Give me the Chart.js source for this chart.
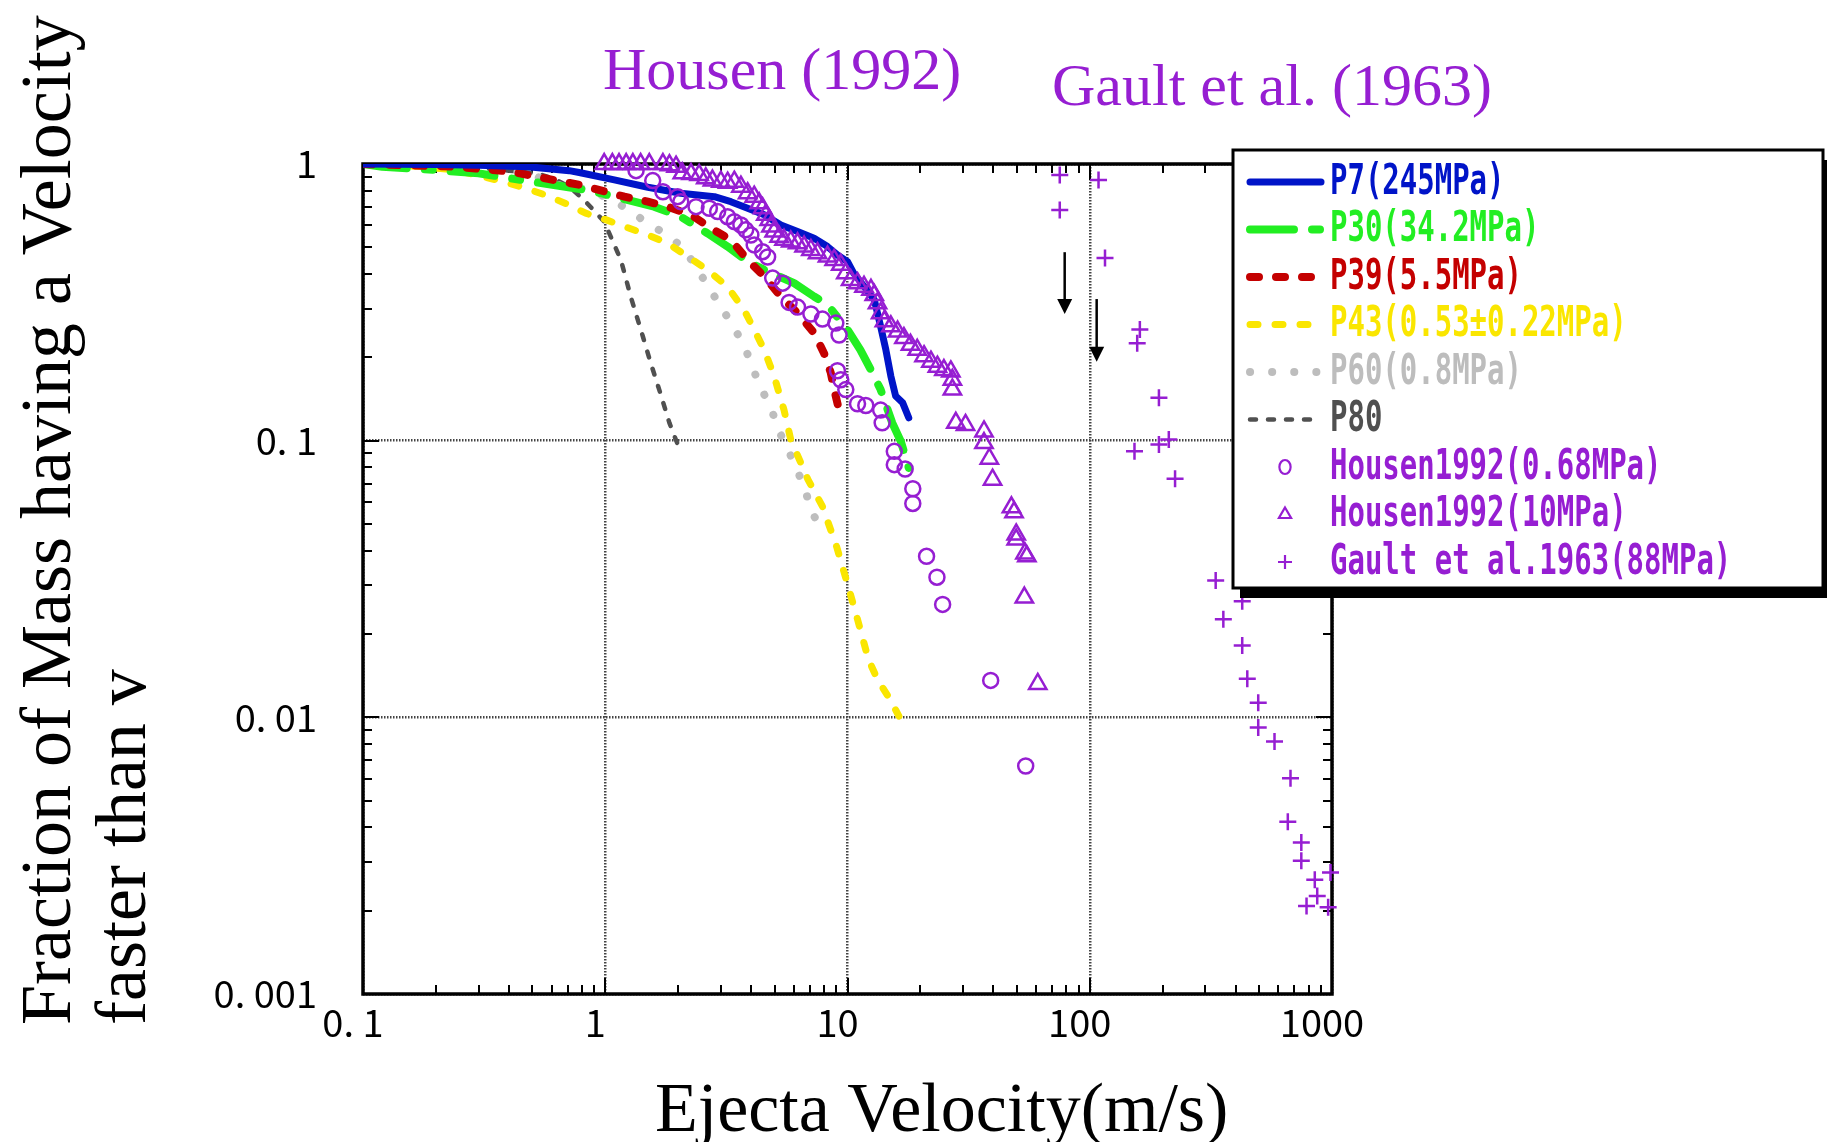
<!DOCTYPE html>
<html>
<head>
<meta charset="utf-8">
<script src="https://cdn.jsdelivr.net/npm/chart.js@4.4.1/dist/chart.umd.min.js"></script>
<style>
  html, body { margin: 0; padding: 0; background: #fff; overflow: hidden; }
  canvas { display: block; }
</style>
</head>
<body>
<canvas id="chart" width="1827" height="1142"></canvas>
<script>
'use strict';

// axes
const xTickVals = [0.1, 1, 10, 100, 1000];
const xTickLabels = ['0. 1', '1', '10', '100', '1000'];
const yTickVals = [0.001, 0.01, 0.1, 1];
const yTickLabels = ['0. 001', '0. 01', '0. 1', '1'];
const xTitle = 'Ejecta Velocity(m/s)';
const yTitle = ['Fraction of Mass having a Velocity', 'faster than v'];
const notes = ['Housen (1992)', 'Gault et al. (1963)'];

// series, [velocity (m/s), fraction faster than v]
const p7 = [[0.1,1],[0.2,0.995],[0.3,0.99],[0.48,0.978],[0.71,0.946],[0.79,0.93],[1.09,0.876],[1.5,0.824],
  [2.05,0.784],[2.82,0.762],[3.3,0.731],[3.87,0.692],[4.53,0.655],[5.31,0.602],[6.22,0.57],[7.28,0.539],
  [8.27,0.503],[9.09,0.469],[10,0.444],[10.6,0.403],[11.7,0.361],[12.9,0.323],[13.7,0.259],[14.4,0.213],
  [15.1,0.171],[15.8,0.145],[16.9,0.137],[17.9,0.121]];
const p30 = [[0.1,1],[0.12,0.978],[0.2,0.951],[0.3,0.925],[0.5,0.863],[0.8,0.81],[0.96,0.784],[1.59,0.701],
  [2.05,0.645],[2.64,0.562],[3.2,0.503],[3.87,0.444],[4.68,0.409],[6.02,0.371],[7.28,0.332],[8.27,0.31],
  [10,0.252],[11.3,0.213],[12.5,0.18],[13.7,0.153],[15.3,0.116],[16.6,0.0994],[17.9,0.0797]];
const p39 = [[0.1,1],[0.24,0.978],[0.41,0.938],[0.61,0.876],[0.79,0.84],[1.2,0.762],[1.5,0.731],[1.81,0.701],
  [2.26,0.655],[2.73,0.586],[3.3,0.532],[3.87,0.45],[4.53,0.392],[5.31,0.332],[6.22,0.289],[7.28,0.245],
  [8.0,0.207],[8.53,0.176],[8.81,0.153],[9.23,0.129]];
const p43 = [[0.1,1],[0.176,0.978],[0.24,0.951],[0.355,0.876],[0.448,0.828],[0.565,0.773],[0.71,0.711],
  [0.83,0.664],[1.01,0.628],[1.2,0.594],[1.5,0.554],[1.81,0.517],[2.19,0.463],[2.64,0.414],[3.2,0.36],
  [3.74,0.297],[4.12,0.252],[4.53,0.213],[4.98,0.171],[5.47,0.129],[5.83,0.101],[6.87,0.0723],[7.87,0.058],
  [9.01,0.0415],[9.97,0.0306],[11.0,0.0226],[12.2,0.0162],[13.3,0.0137],[15.0,0.0116],[16.3,0.0101]];
const p60 = [[0.1,1],[0.176,0.992],[0.292,0.951],[0.43,0.938],[0.522,0.9],[0.634,0.84],[0.794,0.817],
  [0.96,0.773],[1.16,0.711],[1.43,0.628],[1.75,0.562],[2.12,0.496],[2.33,0.432],[2.64,0.366],[2.91,0.318],
  [3.25,0.273],[3.63,0.232],[3.93,0.199],[4.19,0.171],[4.53,0.147],[4.91,0.126],[5.22,0.108],[5.65,0.094],
  [6.64,0.068],[6.98,0.0582],[7.53,0.05]];
const p80 = [[0.1,1],[0.3,0.97],[0.52,0.925],[0.61,0.888],[0.71,0.828],[0.83,0.731],[0.99,0.619],[1.16,0.45],
  [1.28,0.327],[1.43,0.238],[1.54,0.191],[1.67,0.153],[1.84,0.116],[1.99,0.097]];
const housenLo = [[1.34,0.946],[1.57,0.871],[1.73,0.794],[1.99,0.762],[2.05,0.731],[2.37,0.701],[2.69,0.692],
  [2.91,0.673],[3.2,0.645],[3.41,0.619],[3.63,0.602],[3.8,0.578],[3.99,0.554],[4.12,0.51],[4.46,0.482],
  [4.68,0.461],[4.91,0.387],[5.4,0.371],[5.74,0.316],[6.22,0.304],[7.06,0.287],[7.88,0.275],[8.95,0.266],
  [9.23,0.241],[9.09,0.179],[9.38,0.166],[9.84,0.153],[11.0,0.136],[11.9,0.134],[13.7,0.129],[13.9,0.116],
  [15.6,0.0915],[15.6,0.0819],[17.3,0.079],[18.6,0.067],[18.6,0.0593],[21.2,0.0382],[23.4,0.0321],
  [24.7,0.0256],[39.0,0.0136],[54.4,0.00667]];
const housenHi = [[0.99,1],[1.07,1],[1.14,1],[1.22,1],[1.3,1],[1.4,1],[1.52,1],[1.73,1],[1.84,0.99],
  [1.96,0.978],[2.08,0.925],[2.26,0.92],[2.44,0.913],[2.6,0.888],[2.77,0.871],[3.0,0.863],[3.2,0.856],
  [3.41,0.863],[3.63,0.828],[3.87,0.784],[4.12,0.762],[4.32,0.721],[4.46,0.692],[4.6,0.655],[4.75,0.628],
  [4.83,0.594],[4.98,0.57],[5.22,0.546],[5.47,0.532],[5.83,0.525],[6.22,0.517],[6.62,0.503],[7.06,0.489],
  [7.52,0.476],[8.27,0.463],[8.81,0.45],[9.38,0.432],[9.84,0.403],[10.3,0.381],[11.0,0.371],[11.7,0.36],
  [12.5,0.351],[12.9,0.336],[13.3,0.314],[13.7,0.289],[14.2,0.27],[15.1,0.259],[16.1,0.248],[17.1,0.235],
  [18.2,0.222],[19.4,0.213],[20.7,0.202],[22.1,0.193],[23.5,0.185],[25.0,0.18],[26.7,0.178],[27.1,0.166],
  [27.1,0.153],[28.0,0.116],[30.7,0.114],[36.6,0.108],[36.6,0.098],[38.5,0.0861],[39.7,0.0723],[47.5,0.0574],
  [48.7,0.0551],[49.7,0.0458],[49.7,0.0439],[54.0,0.0391],[55.0,0.0382],[53.7,0.0271],[61.0,0.0132]];
const gault = [[75.2,0.913],[108.7,0.875],[75.2,0.682],[115.6,0.457],[161,0.252],[157,0.225],[193,0.143],
  [212,0.101],[193,0.0968],[153,0.0915],[225,0.0728],[331,0.0312],[426,0.0263],[356,0.0226],[426,0.0182],
  [447,0.0138],[496,0.0113],[496,0.00918],[579,0.00817],[674,0.00602],[657,0.00419],[747,0.00353],
  [747,0.00303],[986,0.00275],[849,0.00259],[869,0.00226],[785,0.00208],[964,0.00206]];

// the two arrows: velocity, fraction at tail, fraction at tip
const arrowV = [78.8, 106.8];
const arrowFrom = [0.48, 0.325];
const arrowTo = [0.287, 0.193];

const PURPLE = '#961ed2';
const pts = a => a.map(([x, y]) => ({ x, y }));

function lineSet(label, data, color, width, dash, order) {
  return {
    label, data: pts(data), showLine: true,
    borderColor: color, backgroundColor: color, borderWidth: width, borderDash: dash,
    borderCapStyle: 'round', borderJoinStyle: 'round',
    pointRadius: 0, pointHoverRadius: 0, order
  };
}

function markSet(label, data, style, radius, order) {
  return {
    label, data: pts(data), showLine: false,
    pointStyle: style, pointRadius: radius, pointHoverRadius: radius,
    borderColor: PURPLE, pointBorderColor: PURPLE, pointBackgroundColor: 'rgba(0,0,0,0)',
    pointBorderWidth: 2.5, clip: false, order
  };
}

function drawMark(ctx, style, x, y, r) {
  ctx.beginPath();
  if (style === 'circle') {
    ctx.ellipse(x, y, r * 0.8, r, 0, 0, Math.PI * 2);
  } else if (style === 'triangle') {
    ctx.moveTo(x, y - r);
    ctx.lineTo(x + r * 0.87, y + r * 0.5);
    ctx.lineTo(x - r * 0.87, y + r * 0.5);
    ctx.closePath();
  } else {
    ctx.moveTo(x - r, y); ctx.lineTo(x + r, y);
    ctx.moveTo(x, y - r); ctx.lineTo(x, y + r);
  }
  ctx.stroke();
}

// frame and inward minor/major ticks on all four sides
const framePlugin = {
  id: 'frame',
  beforeDatasetsDraw(chart) {
    const { ctx, chartArea: a, scales: { x, y } } = chart;
    ctx.save();
    ctx.strokeStyle = '#000';
    ctx.lineWidth = 2;
    ctx.beginPath();
    for (let d = 0; d < xTickVals.length - 1; d++) {
      for (let m = 1; m <= 9; m++) {
        if (d === 0 && m === 1) continue;
        const px = Math.round(x.getPixelForValue(xTickVals[d] * m));
        const len = m === 1 ? 16 : 9;
        ctx.moveTo(px, a.bottom); ctx.lineTo(px, a.bottom - len);
        ctx.moveTo(px, a.top); ctx.lineTo(px, a.top + len);
      }
    }
    for (let d = 0; d < yTickVals.length - 1; d++) {
      for (let m = 1; m <= 9; m++) {
        if (d === 0 && m === 1) continue;
        const py = Math.round(y.getPixelForValue(yTickVals[d] * m));
        const len = m === 1 ? 16 : 9;
        ctx.moveTo(a.left, py); ctx.lineTo(a.left + len, py);
        ctx.moveTo(a.right, py); ctx.lineTo(a.right - len, py);
      }
    }
    ctx.stroke();
    ctx.lineWidth = 3.5;
    ctx.strokeRect(a.left, a.top, a.right - a.left, a.bottom - a.top);
    ctx.restore();
  },
  afterDraw(chart) {
    const { ctx, scales: { x, y } } = chart;
    ctx.save();

    // arrows
    ctx.strokeStyle = '#000';
    ctx.fillStyle = '#000';
    ctx.lineWidth = 2.5;
    arrowV.forEach((v, i) => {
      const px = x.getPixelForValue(v);
      const y0 = y.getPixelForValue(arrowFrom[i]);
      const y1 = y.getPixelForValue(arrowTo[i]);
      ctx.beginPath(); ctx.moveTo(px, y0); ctx.lineTo(px, y1 - 12); ctx.stroke();
      ctx.beginPath();
      ctx.moveTo(px - 7.5, y1 - 15); ctx.lineTo(px + 7.5, y1 - 15); ctx.lineTo(px, y1);
      ctx.closePath(); ctx.fill();
    });

    // legend box with drop shadow
    const L = 1233, T = 150, W = 590, H = 438;
    ctx.fillStyle = '#000';
    ctx.fillRect(L + 7, T + 10, W, H);
    ctx.fillStyle = '#fff';
    ctx.fillRect(L, T, W, H);
    ctx.lineWidth = 3;
    ctx.strokeStyle = '#000';
    ctx.strokeRect(L, T, W, H);
    chart.data.datasets.forEach((ds, i) => {
      const ry = 182 + i * 47.5;
      ctx.save();
      if (ds.showLine) {
        ctx.setLineDash(ds.borderDash);
        ctx.lineCap = ds.borderCapStyle;
        ctx.lineWidth = ds.borderWidth;
        ctx.strokeStyle = ds.borderColor;
        ctx.beginPath(); ctx.moveTo(1250, ry); ctx.lineTo(1321, ry); ctx.stroke();
      } else {
        ctx.lineWidth = 2.2;
        ctx.strokeStyle = PURPLE;
        drawMark(ctx, ds.pointStyle, 1285, ry, 7);
      }
      ctx.restore();
      ctx.save();
      ctx.fillStyle = ds.borderColor;
      ctx.font = 'bold 42px "DejaVu Sans Mono"';
      ctx.textBaseline = 'middle';
      ctx.translate(1330, ry + 1);
      ctx.scale(0.69, 1);
      ctx.fillText(ds.label, 0, 0);
      ctx.restore();
    });

    // annotations
    ctx.fillStyle = PURPLE;
    ctx.textAlign = 'left';
    ctx.textBaseline = 'alphabetic';
    ctx.font = '60px "Liberation Serif"';
    ctx.fillText(notes[0], 603, 89);
    ctx.fillText(notes[1], 1052, 105);

    // axis titles
    ctx.fillStyle = '#000';
    ctx.font = '70px "Liberation Serif"';
    ctx.fillText(xTitle, 655, 1131);
    ctx.font = '72px "Liberation Serif"';
    [70, 145].forEach((bx, i) => {
      ctx.save();
      ctx.translate(bx, 1025);
      ctx.rotate(-Math.PI / 2);
      ctx.fillText(yTitle[i], 0, 0);
      ctx.restore();
    });
    ctx.restore();
  }
};

const datasets = [
  lineSet('P7(245MPa)', p7, '#0014c8', 7, [], 3),
  lineSet('P30(34.2MPa)', p30, '#22ee22', 8, [44, 18, 8, 18], 5),
  lineSet('P39(5.5MPa)', p39, '#c40000', 8, [9, 17], 4),
  lineSet('P43(0.53±0.22MPa)', p43, '#fae600', 7, [8, 17], 6),
  lineSet('P60(0.8MPa)', p60, '#bdbdbd', 8, [0.1, 22], 7),
  lineSet('P80', p80, '#505050', 4.5, [6, 12], 8),
  markSet('Housen1992(0.68MPa)', housenLo, 'circle', 7.5, 1),
  markSet('Housen1992(10MPa)', housenHi, 'triangle', 10, 2),
  markSet('Gault et al.1963(88MPa)', gault, 'cross', 8.5, 0)
];

new Chart(document.getElementById('chart'), {
  type: 'scatter',
  data: { datasets },
  options: {
    responsive: false,
    animation: false,
    devicePixelRatio: 1,
    layout: { autoPadding: false, padding: { left: 150, top: 164, right: 495, bottom: 60 } },
    elements: { line: { tension: 0 } },
    plugins: { legend: { display: false }, tooltip: { enabled: false } },
    scales: {
      x: {
        type: 'logarithmic', position: 'bottom', min: 0.1, max: 1000,
        afterBuildTicks: s => { s.ticks = xTickVals.map(v => ({ value: v })); },
        afterFit: s => { s.height = 88; },
        grid: { color: '#444', lineWidth: 2.5, drawTicks: false },
        border: { display: false, dash: [1.5, 1.5] },
        ticks: {
          callback: (v, i) => xTickLabels[i], autoSkip: false, maxRotation: 0, minRotation: 0,
          padding: 6, labelOffset: -10, color: '#000',
          font: { family: '"Noto Sans CJK JP"', size: 38 }
        }
      },
      y: {
        type: 'logarithmic', position: 'left', min: 0.001, max: 1,
        afterBuildTicks: s => { s.ticks = yTickVals.map(v => ({ value: v })); },
        afterFit: s => { s.width = 213; },
        grid: { color: '#444', lineWidth: 2.5, drawTicks: false },
        border: { display: false, dash: [1.5, 1.5] },
        ticks: {
          callback: (v, i) => yTickLabels[i], autoSkip: false,
          padding: 46, color: '#000',
          font: { family: '"Noto Sans CJK JP"', size: 38 }
        }
      }
    }
  },
  plugins: [framePlugin]
});
</script>
</body>
</html>
